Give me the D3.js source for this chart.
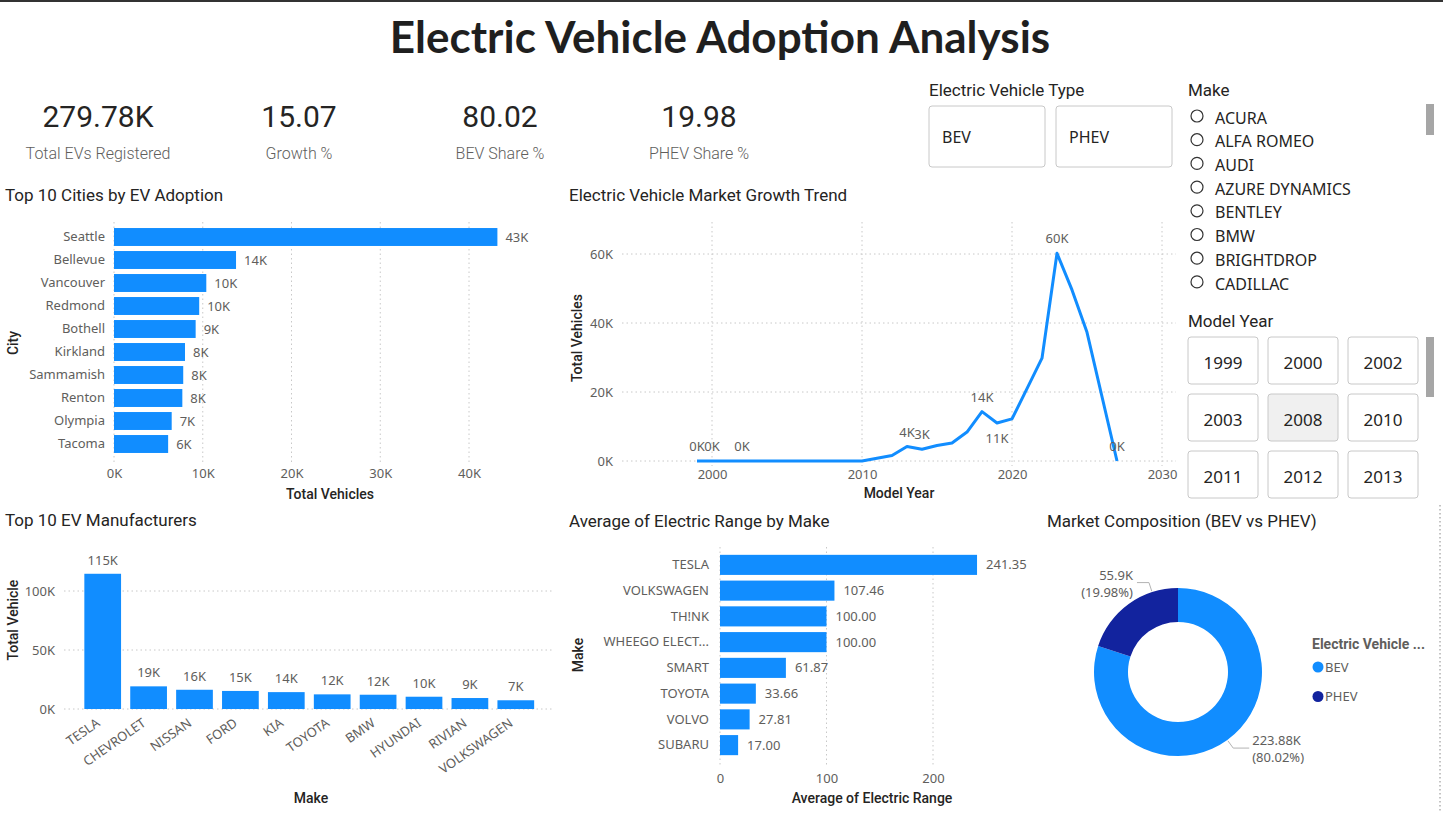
<!DOCTYPE html>
<html><head><meta charset="utf-8">
<script src="https://cdn.jsdelivr.net/npm/d3@7"></script>
<style>
body{margin:0;background:#fff;}
svg{display:block;font-family:"Noto Sans",sans-serif;}
.axis .domain{display:none;}
.axis line{display:none;}
.axis text{fill:#605E5C;font-size:13px;font-family:"Noto Sans",sans-serif;}
.grid line{stroke:#c8c8c8;stroke-dasharray:1.5,3;}
</style></head><body>
<svg id="c" width="1443" height="813"></svg>
<script>
// ---------- DATA ----------
const kpiValues = ["279.78K","15.07","80.02","19.98"];
const kpiLabels = ["Total EVs Registered","Growth %","BEV Share %","PHEV Share %"];

const cities = ["Seattle","Bellevue","Vancouver","Redmond","Bothell","Kirkland","Sammamish","Renton","Olympia","Tacoma"];
const cityVehicles = [43200,13750,10400,9600,9200,8000,7800,7700,6500,6100];

const trendYears  = [1999,2000,2002,2003,2008,2010,2011,2012,2013,2014,2015,2016,2017,2018,2019,2020,2021,2022,2023,2024,2025,2027];
const trendValues = [5,7,2,10,20,25,800,1600,4200,3400,4500,5200,8400,14300,11000,12200,21000,29800,60200,49600,37300,10];
const trendLabelYears = [1999,2000,2002,2013,2014,2018,2019,2023,2027];

const makers = ["TESLA","CHEVROLET","NISSAN","FORD","KIA","TOYOTA","BMW","HYUNDAI","RIVIAN","VOLKSWAGEN"];
const makerVehicles = [114600,19200,16300,15300,14300,12400,12100,10400,9300,7400];

const rangeMakes = ["TESLA","VOLKSWAGEN","TH!NK","WHEEGO ELECT...","SMART","TOYOTA","VOLVO","SUBARU"];
const rangeValues = [241.35,107.46,100.00,100.00,61.87,33.66,27.81,17.00];

const evTypes = ["BEV","PHEV"];
const evCounts = [223880,55900];
const evShares = ["80.02%","19.98%"];
const evCountLabels = ["223.88K","55.9K"];

const makeSlicer = ["ACURA","ALFA ROMEO","AUDI","AZURE DYNAMICS","BENTLEY","BMW","BRIGHTDROP","CADILLAC"];
const yearSlicer = ["1999","2000","2002","2003","2008","2010","2011","2012","2013"];
const selectedYear = "2008";

// ---------- STYLE ----------
const BLUE="#118DFF", DARK="#12239E", GRAY="#605E5C", TXT="#252423";
const fmtK = d => d3.format(".0f")(d/1000)+"K";

const svg = d3.select("#c");
svg.append("rect").attr("x",0).attr("y",0).attr("width",1443).attr("height",2).attr("fill","#333");

svg.append("text").attr("x",720).attr("y",53).attr("text-anchor","middle")
  .attr("font-family","Lato").attr("font-weight",700).attr("font-size",44).attr("fill","#1f1f1f")
  .text("Electric Vehicle Adoption Analysis");

// KPIs
const kpiX=[98,299,500,699];
kpiValues.forEach((v,i)=>{
  svg.append("text").attr("x",kpiX[i]).attr("y",127).attr("text-anchor","middle")
    .attr("font-family","Roboto").attr("font-size",30).attr("fill",TXT).text(v);
  svg.append("text").attr("x",kpiX[i]).attr("y",159).attr("text-anchor","middle")
    .attr("font-family","Roboto").attr("font-weight",300).attr("font-size",16).attr("fill",GRAY).text(kpiLabels[i]);
});

function title(x,y,t){
  svg.append("text").attr("x",x).attr("y",y).attr("font-family","Roboto").attr("font-size",17)
    .attr("fill",TXT).text(t);
}
function axisTitle(x,y,t,rot){
  const g=svg.append("text").attr("text-anchor","middle").attr("font-family","Roboto").attr("font-weight",500)
    .attr("font-size",14).attr("fill",TXT).text(t);
  if(rot) g.attr("transform",`translate(${x},${y}) rotate(-90)`); else g.attr("x",x).attr("y",y);
}

// ---------- Top 10 Cities ----------
title(5,201,"Top 10 Cities by EV Adoption");
{
  const x=d3.scaleLinear().domain([0,40000]).range([114,469]);
  const y=d3.scaleBand().domain(cities).range([225.5,455.5]).paddingInner(0.22).paddingOuter(0.11);
  svg.append("g").attr("class","grid").selectAll("line").data(x.ticks(4)).join("line")
    .attr("x1",d=>x(d)).attr("x2",d=>x(d)).attr("y1",222).attr("y2",462);
  svg.append("g").selectAll("rect").data(cities).join("rect")
    .attr("x",x(0)).attr("y",d=>y(d)).attr("height",y.bandwidth())
    .attr("width",(d,i)=>x(cityVehicles[i])-x(0)).attr("fill",BLUE);
  svg.append("g").selectAll("text").data(cities).join("text")
    .attr("x",(d,i)=>x(cityVehicles[i])+8).attr("y",d=>y(d)+y.bandwidth()/2).attr("dy","0.35em")
    .attr("font-size",13).attr("fill",GRAY).text((d,i)=>fmtK(cityVehicles[i]));
  svg.append("g").attr("class","axis").attr("transform","translate(0,466)")
    .call(d3.axisBottom(x).ticks(4).tickFormat(fmtK).tickSize(0));
  svg.append("g").attr("class","axis").attr("transform","translate(108,0)")
    .call(d3.axisLeft(y).tickSize(0));
  axisTitle(330,499,"Total Vehicles");
  axisTitle(18,343,"City",true);
}

// ---------- Market Growth Trend ----------
title(569,201,"Electric Vehicle Market Growth Trend");
{
  const x=d3.scaleLinear().domain([2000,2030]).range([712,1162]);
  const y=d3.scaleLinear().domain([0,60000]).range([461,254]);
  const g=svg.append("g").attr("class","grid");
  g.selectAll(".v").data(x.ticks(3)).join("line").attr("x1",d=>x(d)).attr("x2",d=>x(d)).attr("y1",222).attr("y2",466);
  g.selectAll(".h").data(y.ticks(3)).join("line").attr("x1",622).attr("x2",1176).attr("y1",d=>y(d)).attr("y2",d=>y(d));
  const pts=trendYears.map((yr,i)=>[yr,trendValues[i]]);
  svg.append("path").datum(pts).attr("fill","none").attr("stroke",BLUE).attr("stroke-width",3)
    .attr("stroke-linejoin","round")
    .attr("d",d3.line().x(d=>x(d[0])).y(d=>y(d[1])));
  const lab=pts.filter(p=>trendLabelYears.includes(p[0]));
  svg.append("g").selectAll("text").data(lab).join("text")
    .attr("x",d=>x(d[0])).attr("y",d=>d[0]===2019? y(d[1])+20 : y(d[1])-10)
    .attr("text-anchor","middle").attr("font-size",13).attr("fill",GRAY)
    .text(d=>fmtK(d[1]));
  svg.append("g").attr("class","axis").attr("transform","translate(0,467)")
    .call(d3.axisBottom(x).ticks(3).tickFormat(d3.format("d")).tickSize(0));
  svg.append("g").attr("class","axis").attr("transform","translate(616,0)")
    .call(d3.axisLeft(y).ticks(3).tickFormat(fmtK).tickSize(0));
  axisTitle(899,498,"Model Year");
  axisTitle(582,338,"Total Vehicles",true);
}

// ---------- Top 10 EV Manufacturers ----------
title(5,526,"Top 10 EV Manufacturers");
{
  const x=d3.scaleBand().domain(makers).range([79.75,538.75]).paddingInner(0.2).paddingOuter(0.1);
  const y=d3.scaleLinear().domain([0,100000]).range([709,591]);
  svg.append("g").attr("class","grid").selectAll("line").data(y.ticks(2)).join("line")
    .attr("x1",64).attr("x2",553).attr("y1",d=>y(d)).attr("y2",d=>y(d));
  svg.append("g").selectAll("rect").data(makers).join("rect")
    .attr("x",d=>x(d)).attr("width",x.bandwidth())
    .attr("y",(d,i)=>y(makerVehicles[i])).attr("height",(d,i)=>y(0)-y(makerVehicles[i])).attr("fill",BLUE);
  svg.append("g").selectAll("text").data(makers).join("text")
    .attr("x",d=>x(d)+x.bandwidth()/2).attr("y",(d,i)=>y(makerVehicles[i])-9)
    .attr("text-anchor","middle").attr("font-size",13).attr("fill",GRAY)
    .text((d,i)=>fmtK(makerVehicles[i]));
  const ax=svg.append("g").attr("class","axis").attr("transform","translate(0,712)")
    .call(d3.axisBottom(x).tickSize(0));
  ax.selectAll("text").attr("text-anchor","end").attr("x",0).attr("y",0).attr("dy",0)
    .attr("transform","translate(-2,13) rotate(-35)");
  svg.append("g").attr("class","axis").attr("transform","translate(58,0)")
    .call(d3.axisLeft(y).ticks(2).tickFormat(fmtK).tickSize(0));
  axisTitle(311,803,"Make");
  axisTitle(18,620,"Total Vehicle",true);
}

// ---------- Average Electric Range ----------
title(569,527,"Average of Electric Range by Make");
{
  const x=d3.scaleLinear().domain([0,200]).range([720,933]);
  const y=d3.scaleBand().domain(rangeMakes).range([552,758]).paddingInner(0.22).paddingOuter(0.11);
  svg.append("g").attr("class","grid").selectAll("line").data(x.ticks(2)).join("line")
    .attr("x1",d=>x(d)).attr("x2",d=>x(d)).attr("y1",547).attr("y2",766);
  svg.append("g").selectAll("rect").data(rangeMakes).join("rect")
    .attr("x",x(0)).attr("y",d=>y(d)).attr("height",y.bandwidth())
    .attr("width",(d,i)=>x(rangeValues[i])-x(0)).attr("fill",BLUE);
  svg.append("g").selectAll("text").data(rangeMakes).join("text")
    .attr("x",(d,i)=>x(rangeValues[i])+9).attr("y",d=>y(d)+y.bandwidth()/2).attr("dy","0.35em")
    .attr("font-size",13).attr("fill",GRAY).text((d,i)=>rangeValues[i].toFixed(2));
  svg.append("g").attr("class","axis").attr("transform","translate(0,771)")
    .call(d3.axisBottom(x).ticks(2).tickSize(0));
  svg.append("g").attr("class","axis").attr("transform","translate(712,0)")
    .call(d3.axisLeft(y).tickSize(0));
  axisTitle(872,803,"Average of Electric Range");
  axisTitle(583,655,"Make",true);
}

// ---------- Donut ----------
title(1047,527,"Market Composition (BEV vs PHEV)");
{
  const cx=1178, cy=672, R=84, r=50;
  const pie=d3.pie().sort(null).value(d=>d)(evCounts);
  const arc=d3.arc().innerRadius(r).outerRadius(R);
  const col=[BLUE,DARK];
  const g=svg.append("g").attr("transform",`translate(${cx},${cy})`);
  g.selectAll("path").data(pie).join("path").attr("d",arc).attr("fill",(d,i)=>col[i]);
  // labels
  const labelFrac=[0.5,0.75];
  pie.forEach((p,i)=>{
    const a=p.startAngle+(p.endAngle-p.startAngle)*labelFrac[i];
    const p0=[Math.sin(a)*(R+1),-Math.cos(a)*(R+1)];
    const p1=[Math.sin(a)*(R+10),-Math.cos(a)*(R+10)];
    const right=Math.sin(a)>0;
    const p2=[p1[0]+(right?16:-12),p1[1]];
    g.append("polyline").attr("points",[p0,p1,p2].map(q=>q.join(",")).join(" "))
      .attr("fill","none").attr("stroke","#b3b3b3").attr("stroke-width",1);
    const t=g.append("text").attr("x",p2[0]+(right?3:-4)).attr("y",p2[1]-3)
      .attr("text-anchor",right?"start":"end").attr("font-size",13).attr("fill",GRAY);
    t.append("tspan").attr("x",p2[0]+(right?3:-4)).attr("dy",0).text(evCountLabels[i]);
    t.append("tspan").attr("x",p2[0]+(right?3:-4)).attr("dy",17).text("("+evShares[i]+")");
  });
  svg.append("text").attr("x",1312).attr("y",649).attr("font-family","Roboto").attr("font-weight",700)
    .attr("font-size",14).attr("fill",GRAY).text("Electric Vehicle ...");
  evTypes.forEach((t,i)=>{
    svg.append("circle").attr("cx",1318).attr("cy",667+i*29.5).attr("r",5.5).attr("fill",col[i]);
    svg.append("text").attr("x",1325).attr("y",667+i*29.5).attr("dy","0.35em")
      .attr("font-size",13).attr("fill",GRAY).text(t);
  });
}
// dotted right border
svg.append("line").attr("x1",1440).attr("x2",1440).attr("y1",505).attr("y2",813)
  .attr("stroke","#888").attr("stroke-dasharray","1.5,2.5");

// ---------- Slicers ----------
svg.append("text").attr("x",929).attr("y",96).attr("font-family","Roboto").attr("font-size",17).attr("fill",TXT)
  .text("Electric Vehicle Type");
evTypes.forEach((t,i)=>{
  const bx=929+i*127;
  svg.append("rect").attr("x",bx).attr("y",106).attr("width",116).attr("height",61).attr("rx",3)
    .attr("fill","#fff").attr("stroke","#c8c8c8");
  svg.append("text").attr("x",bx+13).attr("y",137).attr("dy","0.35em").attr("font-size",16)
    .attr("fill",TXT).text(t);
});
svg.append("text").attr("x",1188).attr("y",96).attr("font-family","Roboto").attr("font-size",17).attr("fill",TXT).text("Make");
makeSlicer.forEach((m,i)=>{
  const yy=118+i*23.7;
  svg.append("circle").attr("cx",1197).attr("cy",yy-2).attr("r",6).attr("fill","none").attr("stroke","#333").attr("stroke-width",1.2);
  svg.append("text").attr("x",1215).attr("y",yy).attr("dy","0.35em").attr("font-size",16).attr("fill",TXT).text(m);
});
svg.append("rect").attr("x",1426).attr("y",104).attr("width",8).attr("height",31).attr("fill","#a6a6a6");

svg.append("text").attr("x",1188).attr("y",327).attr("font-family","Roboto").attr("font-size",17).attr("fill",TXT).text("Model Year");
yearSlicer.forEach((yv,i)=>{
  const bx=1188+(i%3)*80, by=337+Math.floor(i/3)*57;
  svg.append("rect").attr("x",bx).attr("y",by).attr("width",70).attr("height",47).attr("rx",3)
    .attr("fill",yv===selectedYear?"#f0f0f0":"#fff").attr("stroke","#c8c8c8");
  svg.append("text").attr("x",bx+35).attr("y",by+26).attr("dy","0.35em").attr("text-anchor","middle")
    .attr("font-size",17).attr("fill",TXT).text(yv);
});
svg.append("rect").attr("x",1426).attr("y",337).attr("width",8).attr("height",60).attr("fill","#a6a6a6");
</script>
</body></html>
